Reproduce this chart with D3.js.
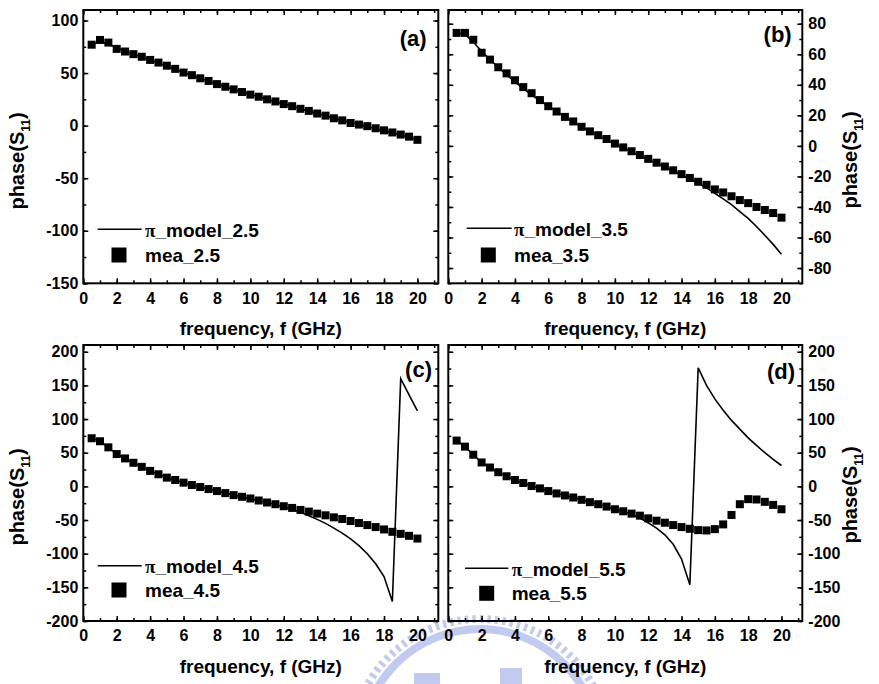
<!DOCTYPE html>
<html>
<head>
<meta charset="utf-8">
<script src="https://cdn.jsdelivr.net/npm/d3@7/dist/d3.min.js"></script>
<style>
  html, body { margin: 0; padding: 0; background: #fff; }
  svg { display: block; }
</style>
</head>
<body>
<svg id="chart" width="879" height="684"></svg>
<script>
// Frequency points (GHz), shared by every panel
const freq = [0.5,1,1.5,2,2.5,3,3.5,4,4.5,5,5.5,6,6.5,7,7.5,8,8.5,9,9.5,10,
              10.5,11,11.5,12,12.5,13,13.5,14,14.5,15,15.5,16,16.5,17,17.5,18,18.5,19,19.5,20];

// phase(S11) in degrees: measured data and pi-model simulation
const mea25   = [77,81.5,79,73,70.5,68,65.5,62.5,60,57,54,50.5,48,45,42.5,39.5,37,34.5,32,29.5,
                 27.5,25,23,20.5,18.5,16,14,11.5,9.5,7,5,2.5,1,-0.5,-2.5,-4.5,-6.5,-8.5,-10.5,-13.5];
const model25 = [77,80,77.5,74,71,68,65,62.5,59.5,56.5,53.5,50.5,47.5,45,42,39.5,37,34.5,32,29.5,
                 27.5,25,22.5,20.5,18.5,16,14,11.5,9.5,7,5,3,1,-1,-3,-5,-7,-9,-11,-13.5];

const mea35   = [74,74,69.5,61,56.5,51.5,47.5,43,38.5,34.5,30,26,22.5,19,16,12.5,9.5,7,4.5,1.5,
                 -1,-3.5,-6,-8.5,-11,-13.5,-16,-18.5,-21,-23.5,-25.5,-28.5,-30.5,-33,-35.5,-37.5,-40,-42,-44,-47];
const model35 = [74,73,68,62,56.5,51.5,46.5,42,37.5,33.5,29.5,26,22.5,19,15.5,12.5,9.5,6.8,4,1.3,
                 -1.3,-4,-6.5,-9,-11.5,-14,-16.5,-19,-21.7,-24.5,-27.5,-31,-34.7,-38.5,-43,-47.5,-52.8,-58.5,-64.5,-71];

const mea45   = [71.5,67,58,48,41.5,35,29,23,18,13,9.5,5.5,2,-1,-4,-7,-10,-13,-15.5,-18,
                 -21,-24,-26.5,-29.5,-32,-35,-37.5,-40.5,-43,-46,-48.5,-51.5,-54.5,-57.5,-60.5,-64,-67.5,-70.5,-73.5,-77.5];
const model45 = [71.5,67,58,48,41.5,35,29,23,18,13,9.5,5.5,2,-1,-4,-7,-10,-13,-15.5,-18,
                 -21,-24,-27,-30.5,-34,-38.5,-43.5,-49,-55,-62,-69.5,-78,-88,-100,-115,-134,-171,160,136,112];

const mea55   = [68,59,47,35.5,28,21,15,9.5,5,0.5,-3,-7,-10.5,-13.5,-16.5,-20,-23.5,-26.5,-30,-34,
                 -37,-40.5,-43.5,-47.5,-51,-54,-57.5,-60.5,-63,-65,-65.5,-63.5,-56.5,-42.5,-26.5,-19,-19.5,-23,-27.5,-34];
const model55 = [68,59,47,35.5,28,21,15,9.5,5,0.5,-3,-7,-10.5,-13.5,-16.5,-20,-23.5,-26.5,-30,-34,
                 -37.5,-41.5,-47,-54,-62,-72,-86,-108,-146,176,150,130,113,98,85,72,61,50,40,31];

// Tick labels
const xTicks   = [0,2,4,6,8,10,12,14,16,18,20];
const yTicksA  = [-150,-100,-50,0,50,100];
const yTicksB  = [-80,-60,-40,-20,0,20,40,60,80];
const yTicksCD = [-200,-150,-100,-50,0,50,100,150,200];

const FONT = "Arial, 'Liberation Sans', Helvetica, sans-serif";
const plain = d => String(d);   // keep the ASCII hyphen for negatives
const svg = d3.select('#chart');

// faint emblem behind the lower panels
const emblem = svg.append('g').attr('fill', 'none').attr('stroke', '#c3caf0');
emblem.append('circle').attr('cx', 480).attr('cy', 748).attr('r', 129)
  .attr('stroke-width', 8).attr('stroke-dasharray', '3.5 4');
emblem.append('circle').attr('cx', 480).attr('cy', 748).attr('r', 119)
  .attr('stroke-width', 8);
emblem.append('rect').attr('x', 414).attr('y', 673).attr('width', 26).attr('height', 11)
  .attr('fill', '#c3caf0').attr('stroke', 'none');
emblem.append('rect').attr('x', 500).attr('y', 668).attr('width', 22).attr('height', 16)
  .attr('fill', '#c3caf0').attr('stroke', 'none');

const panels = [
  { x0: 83.3,  x1: 438.3, y0: 10,  y1: 283.3, yDomain: [-150, 110], yTicks: yTicksA,  minor: 25, side: 'left',
    mea: mea25, model: model25, name: '2.5', tag: '(a)', tagDx: 11.6, tagY: 46,
    leg: { lx0: 97.7, lx1: 141.7, ly: 229.3, tx: 145, t1: 236.5, sx: 119, sy: 255, t2: 261.5 },
    titleY: 161 },
  { x0: 448.3, x1: 802.3, y0: 10,  y1: 283.3, yDomain: [-90, 89],   yTicks: yTicksB,  minor: 10, side: 'right',
    mea: mea35, model: model35, name: '3.5', tag: '(b)', tagDx: 10.6, tagY: 42,
    leg: { lx0: 466.7, lx1: 511.7, ly: 228.3, tx: 514, t1: 235.5, sx: 488.3, sy: 255, t2: 261.5 },
    titleY: 160 },
  { x0: 83.3,  x1: 438.3, y0: 345, y1: 621,   yDomain: [-200, 210], yTicks: yTicksCD, minor: 25, side: 'left',
    mea: mea45, model: model45, name: '4.5', tag: '(c)', tagDx: 6.3, tagY: 377,
    leg: { lx0: 97.7, lx1: 141.7, ly: 565.7, tx: 145, t1: 573, sx: 119, sy: 590, t2: 596.5 },
    titleY: 497 },
  { x0: 448.3, x1: 802.3, y0: 345, y1: 621,   yDomain: [-200, 210], yTicks: yTicksCD, minor: 25, side: 'right',
    mea: mea55, model: model55, name: '5.5', tag: '(d)', tagDx: 7.3, tagY: 379,
    leg: { lx0: 465, lx1: 508.3, ly: 568.3, tx: 511.7, t1: 575.5, sx: 486.7, sy: 593.3, t2: 600 },
    titleY: 495 }
];

function styleAxis(g) {
  g.select('.domain').remove();
  g.attr('font-family', FONT).attr('font-size', 16).attr('font-weight', 'bold');
  g.selectAll('.tick line').attr('stroke', '#000').attr('stroke-width', 1.5);
  g.selectAll('.tick text').attr('fill', '#000');
}

function yTitle(g, cx, cy) {
  const t = g.append('text')
    .attr('transform', `translate(${cx},${cy}) rotate(-90)`)
    .attr('text-anchor', 'middle')
    .attr('font-family', FONT).attr('font-size', 20).attr('font-weight', 'bold')
    .attr('fill', '#000');
  t.append('tspan').text('phase(S');
  t.append('tspan').attr('font-size', 12).attr('dy', 6).text('11');
  t.append('tspan').attr('dy', -6).text(')');
}

panels.forEach(p => {
  const g = svg.append('g');
  const x = d3.scaleLinear().domain([0, 21.25]).range([p.x0, p.x1]);
  const y = d3.scaleLinear().domain(p.yDomain).range([p.y1, p.y0]);

  const xMinor = d3.range(0, 21.26, 1);
  const yMinor = d3.range(Math.ceil(p.yDomain[0] / p.minor) * p.minor, p.yDomain[1] + 0.01, p.minor);

  // minor ticks on all four sides
  [[d3.axisBottom(x), p.y1], [d3.axisTop(x), p.y0]].forEach(([ax, pos]) => {
    g.append('g').attr('transform', `translate(0,${pos})`)
      .call(ax.tickValues(xMinor).tickSize(-3).tickFormat(''))
      .call(styleAxis);
  });
  [[d3.axisLeft(y), p.x0], [d3.axisRight(y), p.x1]].forEach(([ax, pos]) => {
    g.append('g').attr('transform', `translate(${pos},0)`)
      .call(ax.tickValues(yMinor).tickSize(-3).tickFormat(''))
      .call(styleAxis);
  });

  // major ticks; labels on the bottom and on the labelled side
  g.append('g').attr('transform', `translate(0,${p.y1})`)
    .call(d3.axisBottom(x).tickValues(xTicks).tickSize(-5).tickPadding(9).tickFormat(plain))
    .call(styleAxis);
  g.append('g').attr('transform', `translate(0,${p.y0})`)
    .call(d3.axisTop(x).tickValues(xTicks).tickSize(-5).tickFormat(''))
    .call(styleAxis);
  g.append('g').attr('transform', `translate(${p.x0},0)`)
    .call(d3.axisLeft(y).tickValues(p.yTicks).tickSize(-5).tickPadding(5)
      .tickFormat(p.side === 'left' ? plain : ''))
    .call(styleAxis);
  g.append('g').attr('transform', `translate(${p.x1},0)`)
    .call(d3.axisRight(y).tickValues(p.yTicks).tickSize(-5).tickPadding(6)
      .tickFormat(p.side === 'right' ? plain : ''))
    .call(styleAxis);

  // simulated curve
  const pts = freq.map((f, i) => ({ f, m: p.model[i], v: p.mea[i] }));
  g.append('path').datum(pts)
    .attr('d', d3.line().x(d => x(d.f)).y(d => y(d.m)))
    .attr('fill', 'none').attr('stroke', '#000').attr('stroke-width', 1.6)
    .attr('stroke-linejoin', 'miter');

  // measured points
  const s = 8;
  g.append('g').selectAll('rect').data(pts).join('rect')
    .attr('x', d => x(d.f) - s / 2).attr('y', d => y(d.v) - s / 2)
    .attr('width', s).attr('height', s).attr('fill', '#000');

  // frame
  g.append('rect').attr('x', p.x0).attr('y', p.y0)
    .attr('width', p.x1 - p.x0).attr('height', p.y1 - p.y0)
    .attr('fill', 'none').attr('stroke', '#000').attr('stroke-width', 2);

  // panel tag
  g.append('text').attr('x', p.x1 - p.tagDx).attr('y', p.tagY)
    .attr('text-anchor', 'end')
    .attr('font-family', FONT).attr('font-size', 22).attr('font-weight', 'bold')
    .text(p.tag);

  // legend
  const L = p.leg;
  g.append('line').attr('x1', L.lx0).attr('x2', L.lx1).attr('y1', L.ly).attr('y2', L.ly)
    .attr('stroke', '#000').attr('stroke-width', 1.6);
  const t1 = g.append('text').attr('x', L.tx).attr('y', L.t1)
    .attr('font-family', FONT).attr('font-size', 19).attr('font-weight', 'bold');
  t1.append('tspan').attr('font-family', "'Liberation Serif', 'Times New Roman', serif").text('π');
  t1.append('tspan').text('_model_' + p.name);
  g.append('rect').attr('x', L.sx - 7.5).attr('y', L.sy - 7.5)
    .attr('width', 15).attr('height', 15).attr('fill', '#000');
  g.append('text').attr('x', L.tx).attr('y', L.t2)
    .attr('font-family', FONT).attr('font-size', 19).attr('font-weight', 'bold')
    .text('mea_' + p.name);

  // axis titles
  g.append('text').attr('x', (p.x0 + p.x1) / 2).attr('y', p.y1 + 52)
    .attr('text-anchor', 'middle')
    .attr('font-family', FONT).attr('font-size', 19).attr('font-weight', 'bold')
    .text('frequency, f (GHz)');
  yTitle(g, p.side === 'left' ? 23.5 : 857, p.titleY);
});
</script>
</body>
</html>
